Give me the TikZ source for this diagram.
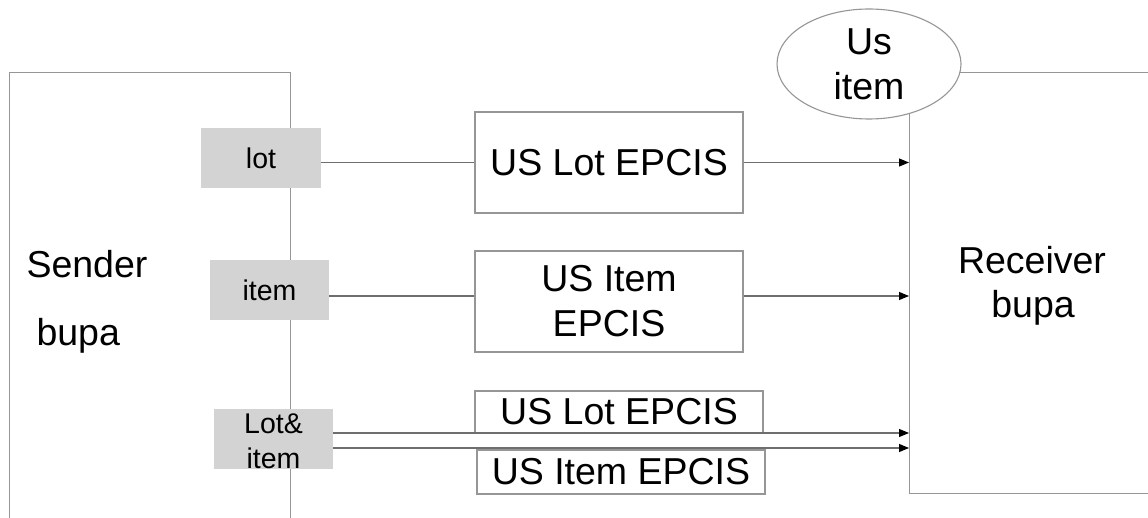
\documentclass[tikz,border=0pt]{standalone}
\usepackage{fontspec}
\setmainfont{Liberation Sans}
\usetikzlibrary{arrows.meta,shapes.geometric}
\definecolor{edgegray}{RGB}{150,150,150}
\definecolor{linkgray}{RGB}{110,110,110}
\definecolor{portfill}{RGB}{211,211,211}
\tikzset{
  bigtext/.style={font=\fontsize{37.5}{45}\selectfont},
  smalltext/.style={font=\fontsize{28.5}{35}\selectfont},
  party/.style={draw=edgegray, line width=1.1pt, rectangle, inner sep=0pt, anchor=north west},
  port/.style={fill=portfill, draw=none, rectangle, inner sep=0pt, smalltext, align=center},
  msgbox/.style={draw=edgegray, line width=1.1pt, fill=white, rectangle, inner sep=0pt, bigtext, align=center},
  link/.style={draw=linkgray, line width=1.1pt},
  flow/.style={link, -{Triangle[length=10pt,width=8pt,black]}},
}
\begin{document}
\begin{tikzpicture}[x=1pt,y=-1pt]
\useasboundingbox (0,0) rectangle (1148,518);
\clip (0,0) rectangle (1148,518);

% sending and receiving business partners (both run off the page edge)
\node[party, minimum width=281pt, minimum height=480pt] (sender) at (9,72) {};
\node[party, minimum width=260pt, minimum height=421pt] (recv) at (909,72) {};
\node[bigtext, anchor=base west] (sendlbl) at (23,278) {Sender};
\node[bigtext, anchor=base west] (sendlbl2) at (33,345) {bupa};
\node[bigtext, anchor=base] (recvlbl) at (1032,274) {Receiver};
\node[bigtext, anchor=base] (recvlbl2) at (1033,318) {bupa};

% identifier type on the receiver side
\node[ellipse, draw=edgegray, line width=1.1pt, fill=white, inner sep=0pt,
      minimum width=184pt, minimum height=110pt, bigtext, align=center] (usitem) at (869,64) {Us\\item};

% ports on the sender
\node[port, minimum width=120pt, minimum height=60pt] (lot) at (261,158) {lot};
\node[port, minimum width=119pt, minimum height=60pt] (item) at (269.5,290) {item};
\node[port, minimum width=119pt, minimum height=60pt] (lotitem) at (273.5,439) {};
\node[smalltext, align=center] (lotitemtxt) at (273.5,441) {Lot\&\\item};

% EPCIS message boxes
\node[msgbox, minimum width=268pt, minimum height=101pt] (b1) at (609,162.5) {US Lot EPCIS};
\node[msgbox, minimum width=268pt, minimum height=101pt] (b2) at (609,301.5) {US Item\\EPCIS};
\node[msgbox, minimum width=288pt, minimum height=42pt] (b3) at (619,412) {US Lot EPCIS};
\node[msgbox, minimum width=288pt, minimum height=44pt] (b4) at (621,472) {US Item EPCIS};

% connectors
\draw[link] (lot.east |- b1.west) -- (b1.west);
\draw[flow] (b1.east) -- (b1.east -| recv.west);
\draw[link] ([yshift=-6pt]item.east) coordinate (itemout) -- (itemout -| b2.west);
\draw[flow] (itemout -| b2.east) -- (itemout -| recv.west);
\draw[flow] ([yshift=6pt]lotitem.east) coordinate (liA) -- (liA -| recv.west);
\draw[flow] ([yshift=-9pt]lotitem.east) coordinate (liB) -- (liB -| recv.west);
\end{tikzpicture}
\end{document}
